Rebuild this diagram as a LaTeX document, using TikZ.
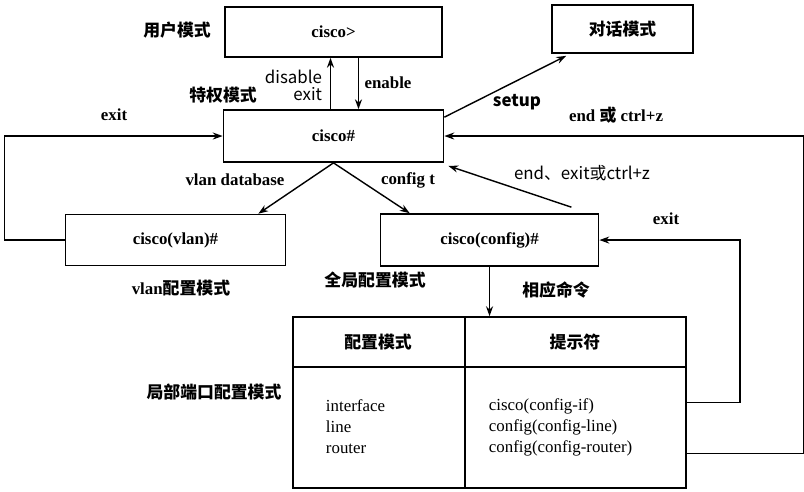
\documentclass[tikz,border=0pt]{standalone}
\usepackage{fontspec}
\setmainfont{Liberation Serif}
\newfontfamily\cjk{Noto Sans CJK SC}
\newcommand{\lblsize}{\fontsize{12}{15}\selectfont}
\usetikzlibrary{arrows.meta, calc}
\tikzstyle{mode} = [rectangle, draw=black, line width=1.2pt, minimum width=5.5cm, minimum height=1.3cm, text centered, font=\lblsize\bfseries]
\tikzstyle{cjklabel} = [font=\lblsize\cjk\bfseries]
\tikzstyle{cmd} = [font=\lblsize\bfseries]
\tikzstyle{plain} = [font=\lblsize\cjk]
\tikzstyle{rowtext} = [anchor=west, align=left, font=\lblsize]
\tikzstyle{conn} = [line width=1pt, ->]

\begin{document}
\begin{tikzpicture}[x=0.025cm, y=-0.025cm, node distance=2.6cm, >={Stealth[length=7pt,width=5pt]}]
    \useasboundingbox (0,0) rectangle (804,492);

    \node[mode, minimum width=5.425cm, minimum height=1.25cm] (user) at (333.5,32) {cisco>};
    \node[mode, font=\lblsize\cjk\bfseries, minimum width=3.525cm, minimum height=1.2cm] (dlg) at (622.5,29) {对话模式};
    \node[mode, below of=user] (priv) {cisco\#};

    \node[mode, below of=priv, xshift=-3.95cm, minimum height=1.275cm] (vlan) {cisco(vlan)\#};
    \node[mode, below of=priv, xshift=3.9cm, minimum width=5.45cm] (cfg) {cisco(config)\#};

    \node[mode, below of=cfg, yshift=-1.46cm, minimum width=9.825cm, minimum height=4.275cm] (tbl) {};
    \draw[line width=1.2pt] ($(tbl.north west)+(0,51)$) -- ($(tbl.north east)+(0,51)$);
    \draw[line width=1.2pt] ($(tbl.north west)+(173,0)$) -- ($(tbl.south west)+(173,0)$);

    % labels
    \node[cjklabel] (lbluser) at (177,30) {用户模式};
    \node[cjklabel] (lblpriv) at (223,95) {特权模式};
    \node[plain, align=right, anchor=east, font=\fontsize{12}{12}\selectfont\cjk] (lbldisable) at (327,85) {disable\\exit};
    \node[cmd] (lblenable) at (388,83) {enable};
    \node[cmd] (lblexitl) at (114,115) {exit};
    \node[cmd] (lblvlandb) at (235,180) {vlan database};
    \node[cmd] (lblcfgt) at (408,180) {config t};
    \node[cmd] (lblvlan) at (181,288) {vlan{\cjk\bfseries 配置模式}};
    \node[cjklabel] (lblglobal) at (375,280) {全局配置模式};
    \node[cjklabel] (lblcmd) at (556,290) {相应命令};
    \node[cjklabel] (lbllocal) at (214,392) {局部端口配置模式};
    \node[cjklabel] (lblsetup) at (517,102) {setup};
    \node[cmd] (lblendz) at (616,115) {end {\cjk\bfseries 或} ctrl+z};
    \node[plain] (lblendexit) at (582,173) {end、exit或ctrl+z};
    \node[cmd] (lblexitr) at (666,219) {exit};

    % table
    \node[cjklabel] (hdmode) at (378,342) {配置模式};
    \node[cjklabel] (hdprompt) at (575,342) {提示符};
    \node[rowtext] (rowmodes) at (321,427) {interface\\line\\router};
    \node[rowtext] (rowprompts) at (484,427) {cisco(config-if)\\config(config-line)\\config(config-router)};

    \draw[conn] ($(priv.north)+(-3,0)$) -- ($(user.south)+(-3,0)$);
    \draw[conn] ($(user.south)+(25,0)$) -- ($(priv.north)+(25,0)$);
    \draw[conn] ($(priv.north east)+(0,8)$) -- ($(dlg.south west)+(15,2)$);
    \draw[conn] ($(tbl.east)+(0,51)$) -- ++(117,0) |- (priv.east);
    \draw[conn] (tbl.east) -- ++(53,0) |- (cfg.east);
    \draw[conn] ($(cfg.north east)+(-28,-6)$) -- ($(priv.south east)+(4,3)$);
    \draw[conn] (priv.south) -- ($(vlan.north east)+(-28,0)$);
    \draw[conn] (priv.south) -- ($(cfg.north west)+(30,0)$);
    \draw[conn] (vlan.west) -- ++(-60,0) |- (priv.west);
    \draw[conn] (cfg.south) -- (tbl.north);

\end{tikzpicture}
\end{document}
